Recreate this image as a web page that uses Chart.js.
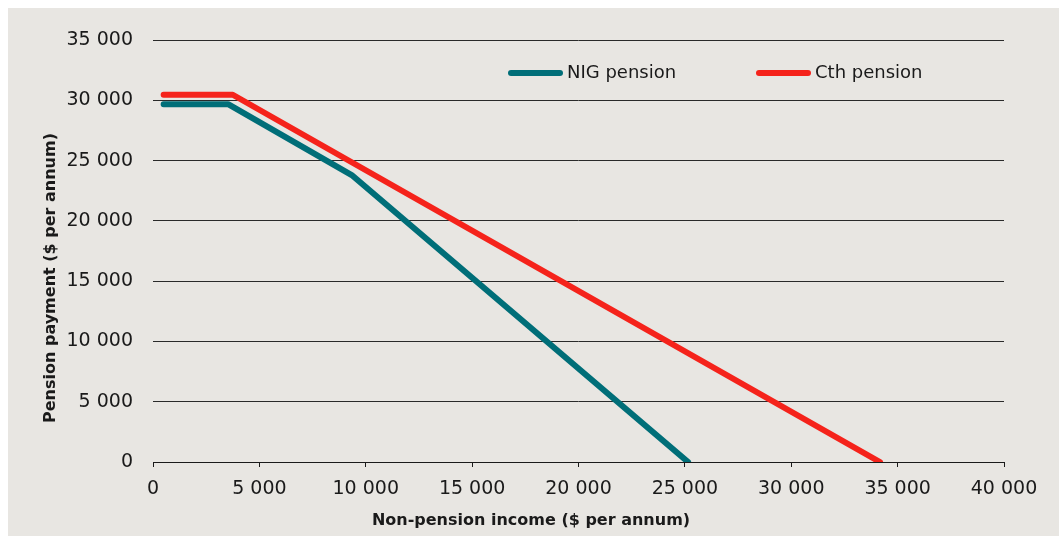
<!DOCTYPE html>
<html>
<head>
<meta charset="utf-8">
<script src="https://cdn.jsdelivr.net/npm/chart.js@4/dist/chart.umd.min.js"></script>
<style>
    html, body { margin: 0; padding: 0; background: #ffffff; }
    #wrap { position: absolute; left: 8px; top: 8px; width: 1051px; height: 528px; background: #e8e6e2; }
</style>
</head>
<body>
<div id="wrap"><canvas id="chart" width="1051" height="528"></canvas></div>
<script>
    // data
    const nigIncome = [500, 3530, 9340, 25150];
    const nigPension = [29680, 29680, 23800, 0];
    const cthIncome = [500, 3750, 34170];
    const cthPension = [30460, 30460, 0];
    const seriesNames = ["NIG pension", "Cth pension"];
    const xTitle = "Non-pension income ($ per annum)";
    const yTitle = "Pension payment ($ per annum)";

    const tealColor = "#006e78";
    const redColor = "#f5231b";
    const tickFont = { family: "DejaVu Sans", size: 19 };

    const fmt = (v) => String(v).replace(/\B(?=(\d{3})+(?!\d))/g, " ");
    const toPoints = (xs, ys) => xs.map((x, i) => ({ x: x, y: ys[i] }));

    // legend and axis titles drawn at the reference positions
    const decorations = {
        id: "decorations",
        afterDraw(chart) {
            const ctx = chart.ctx;
            ctx.save();
            ctx.font = "18px 'DejaVu Sans'";
            ctx.textBaseline = "middle";
            ctx.fillStyle = "#1a1a1a";
            ctx.lineCap = "round";
            ctx.lineWidth = 6;
            const items = [
                { x: 500, color: tealColor, label: seriesNames[0] },
                { x: 748, color: redColor, label: seriesNames[1] },
            ];
            items.forEach((it) => {
                ctx.strokeStyle = it.color;
                ctx.beginPath();
                ctx.moveTo(it.x + 3, 65);
                ctx.lineTo(it.x + 52, 65);
                ctx.stroke();
                ctx.fillText(it.label, it.x + 59, 65);
            });

            ctx.font = "bold 16px 'DejaVu Sans'";
            ctx.textAlign = "center";
            ctx.fillText(xTitle, 523, 513);
            ctx.translate(43, 270);
            ctx.rotate(-Math.PI / 2);
            ctx.fillText(yTitle, 0, 0);
            ctx.restore();
        },
    };

    const ctx = document.getElementById("chart").getContext("2d");
    const pensionChart = new Chart(ctx, {
        type: "scatter",
        data: {
            datasets: [
                {
                    label: seriesNames[0],
                    data: toPoints(nigIncome, nigPension),
                    showLine: true,
                    borderColor: tealColor,
                    borderWidth: 6,
                    borderCapStyle: "round",
                    borderJoinStyle: "round",
                    pointRadius: 0,
                },
                {
                    label: seriesNames[1],
                    data: toPoints(cthIncome, cthPension),
                    showLine: true,
                    borderColor: redColor,
                    borderWidth: 6,
                    borderCapStyle: "round",
                    borderJoinStyle: "round",
                    pointRadius: 0,
                },
            ],
        },
        options: {
            responsive: false,
            animation: false,
            layout: {
                padding: { top: 32, right: 55, bottom: 0, left: 0 },
            },
            plugins: {
                legend: { display: false },
                tooltip: { enabled: false },
            },
            scales: {
                x: {
                    type: "linear",
                    min: 0,
                    max: 40000,
                    afterFit: (scale) => { scale.height = 74; },
                    ticks: {
                        stepSize: 5000,
                        color: "#1a1a1a",
                        font: tickFont,
                        padding: 11,
                        maxRotation: 0,
                        callback: (v) => fmt(v),
                    },
                    grid: {
                        drawOnChartArea: false,
                        drawTicks: true,
                        tickLength: 5,
                        color: "#1a1a1a",
                    },
                    border: { display: true, color: "#1a1a1a", width: 1 },
                },
                y: {
                    min: 0,
                    max: 35000,
                    afterFit: (scale) => { scale.width = 145; },
                    ticks: {
                        stepSize: 5000,
                        color: "#1a1a1a",
                        font: tickFont,
                        padding: 20,
                        callback: (v) => fmt(v),
                    },
                    grid: {
                        drawTicks: false,
                        color: "#2a2a2a",
                    },
                    border: { display: false },
                },
            },
        },
        plugins: [decorations],
    });
</script>
</body>
</html>
